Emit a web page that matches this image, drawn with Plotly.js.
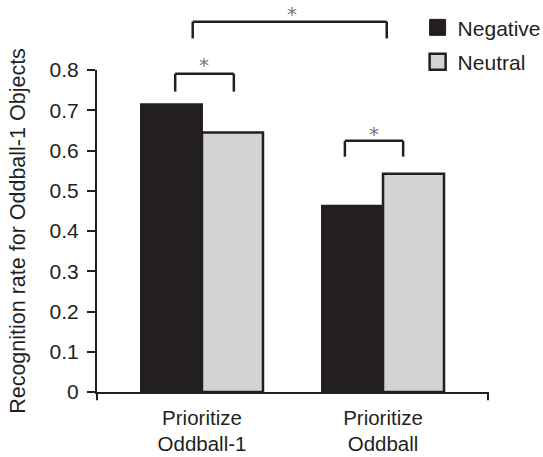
<!DOCTYPE html>
<html>
<head>
<meta charset="utf-8">
<script src="https://cdn.plot.ly/plotly-3.0.1.min.js"></script>
<style>html,body{margin:0;padding:0;background:#fff;}#chart{width:543px;height:457px;}</style>
</head>
<body>
<div id="chart"></div>
<script>
// Data
const categories = ["Prioritize<br>Oddball-1", "Prioritize<br>Oddball"];
const seriesNames = ["Negative", "Neutral"];
const negativeValues = [0.715, 0.463];
const neutralValues = [0.645, 0.542];
const yTickVals = [0, 0.1, 0.2, 0.3, 0.4, 0.5, 0.6, 0.7, 0.8];
const yTickText = ["0", "0.1", "0.2", "0.3", "0.4", "0.5", "0.6", "0.7", "0.8"];
const yTitle = "Recognition rate for Oddball-1 Objects";

const ink = "#231f20";
const grey = "#d1d3d4";
const fontFam = "Liberation Sans, Arial, Helvetica, sans-serif";

const traces = [
  {type: "bar", name: seriesNames[0], x: [0, 1], y: negativeValues, showlegend: false,
   marker: {color: ink, line: {color: ink, width: 2}}},
  {type: "bar", name: seriesNames[1], x: [0, 1], y: neutralValues, showlegend: false,
   marker: {color: grey, line: {color: ink, width: 2.5}}},
  // legend keys (no data of their own)
  {type: "scatter", mode: "markers", name: seriesNames[0], x: [null], y: [null], legendgroup: "a",
   marker: {symbol: "square", size: 18, color: ink, line: {color: ink, width: 1}}},
  {type: "scatter", mode: "markers", name: seriesNames[1], x: [null], y: [null], legendgroup: "b",
   marker: {symbol: "square", size: 18, color: grey, line: {color: ink, width: 2.5}}}
];

function bracket(x0, x1, yTop, yBot) {
  const ln = {color: ink, width: 2.5};
  return [
    {type: "line", xref: "paper", yref: "paper", x0: x0, x1: x1, y0: yTop, y1: yTop, line: ln},
    {type: "line", xref: "paper", yref: "paper", x0: x0, x1: x0, y0: yTop, y1: yBot, line: ln},
    {type: "line", xref: "paper", yref: "paper", x0: x1, x1: x1, y0: yTop, y1: yBot, line: ln}
  ];
}
function star(x, y) {
  return {xref: "paper", yref: "paper", x: x, y: y, text: "*", showarrow: false,
          xanchor: "center", yanchor: "middle",
          font: {family: "DejaVu Sans, sans-serif", size: 20, color: "#777"}};
}

const shapes = [].concat(
  bracket(0.2448, 0.741, 1.150, 1.098),
  bracket(0.200, 0.350, 0.988, 0.933),
  bracket(0.634, 0.783, 0.780, 0.731),
  [
    {type: "line", xref: "paper", yref: "paper", x0: 0, x1: 0, y0: 0, y1: -0.026, line: {color: ink, width: 2}},
    {type: "line", xref: "paper", yref: "paper", x0: 1, x1: 1, y0: 0, y1: -0.026, line: {color: ink, width: 2}}
  ]
);

const layout = {
  width: 543, height: 457,
  margin: {l: 97, r: 55, t: 70, b: 65, pad: 0, autoexpand: false},
  paper_bgcolor: "#fff", plot_bgcolor: "#fff",
  font: {family: fontFam, size: 20, color: ink},
  barmode: "group", bargap: 0.326, bargroupgap: 0,
  showlegend: true,
  legend: {x: 0.82, y: 1.195, xanchor: "left", yanchor: "top",
           font: {family: fontFam, size: 21, color: ink},
           bgcolor: "rgba(0,0,0,0)", tracegroupgap: 4, itemwidth: 30, itemsizing: "trace"},
  xaxis: {
    range: [-0.58, 1.58], tickmode: "array", tickvals: [0, 1], ticktext: categories,
    showline: true, linecolor: ink, linewidth: 2, ticks: "", showgrid: false, zeroline: false,
    tickfont: {family: fontFam, size: 20.5, color: ink}, ticklabelstandoff: 6, fixedrange: true
  },
  yaxis: {
    range: [0, 0.8], tickmode: "array", tickvals: yTickVals, ticktext: yTickText,
    showline: true, linecolor: ink, linewidth: 2, ticks: "outside", ticklen: 8, tickwidth: 2, tickcolor: ink,
    showgrid: false, zeroline: false, ticklabelstandoff: 4,
    tickfont: {family: fontFam, size: 21, color: ink},
    title: {text: yTitle, font: {family: fontFam, size: 21.5, color: ink}, standoff: 18}
  },
  shapes: shapes,
  annotations: [star(0.498, 1.175), star(0.274, 1.016), star(0.708, 0.802)]
};

Plotly.newPlot("chart", traces, layout, {displayModeBar: false, staticPlot: true});
</script>
</body>
</html>
